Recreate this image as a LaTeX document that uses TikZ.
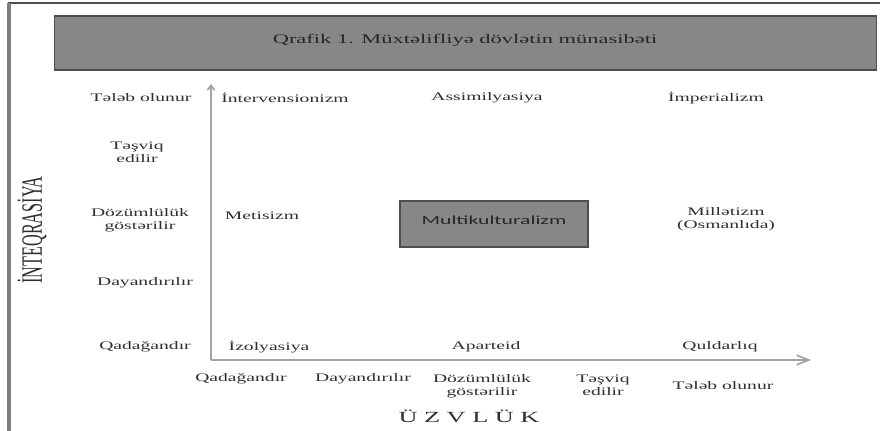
\documentclass[tikz,border=0pt]{standalone}
\usepackage{fontspec}
\setmainfont[FakeStretch=1.7]{Liberation Serif}
\newfontfamily\boxfont[FakeStretch=1.75]{Carlito}
\newfontfamily\sidefont[FakeStretch=0.55]{Liberation Serif}
\usetikzlibrary{arrows.meta}
\definecolor{boxgrey}{HTML}{878787}
\definecolor{edgegrey}{HTML}{4D4D4D}
\definecolor{axisgrey}{HTML}{A3A3A3}
\definecolor{textgrey}{HTML}{2E2E2E}

\begin{document}
\begin{tikzpicture}[x=0.025cm, y=-0.025cm, every node/.style={font=\fontsize{8.2}{9}\selectfont, text=textgrey, align=center, inner sep=1pt}, greybox/.style={draw=edgegrey, line width=1.2pt, fill=boxgrey}, axis/.style={draw=axisgrey, line width=1.2pt}]
\useasboundingbox (0,0) rectangle (880,431);
\draw[edgegrey, line width=0.9pt] (8,3)--(880,3);
\draw[gray, line width=2.2pt] (9,3)--(9,431);
\node[greybox, minimum width=20.55cm, minimum height=1.35cm] (title) at (465.5,43) {};
\node[font=\fontsize{9.4}{10}\selectfont, text=black!85] (titletext) at (465,40) {Qrafik 1. Müxtəlifliyə dövlətin münasibəti};
% axes
\coordinate (origin) at (211,360);
\coordinate (ytop) at (211,84);
\coordinate (xend) at (811,360);
\draw[axis, -{Straight Barb[length=1.2mm,width=1.8mm]}] (origin)--(ytop);
\draw[axis, -{Straight Barb[length=3mm,width=2.4mm]}] (origin)--(xend);
% integration levels
\node (yreq) at (141,98) {Tələb olunur};
\node (yenc) at (137,152) {Təşviq\\edilir};
\node (ytol) at (140,220) {Dözümlülük\\göstərilir};
\node (ystop) at (145,283) {Dayandırılır};
\node (yban) at (145,347) {Qadağandır};
\node[rotate=90, font=\sidefont\fontsize{21}{22}\selectfont] (inteq) at (32,230) {İNTEQRASİYA};
% membership levels
\node (xban) at (241,379) {Qadağandır};
\node (xstop) at (363,379) {Dayandırılır};
\node (xtol) at (482,386) {Dözümlülük\\göstərilir};
\node (xenc) at (603,385) {Təşviq\\edilir};
\node (xreq) at (723,386) {Tələb olunur};
\node[font=\fontsize{11}{12}\selectfont] (uzvluk) at (469,416) {Ü Z V L Ü K};
% policies
\node (interv) at (285,98) {İntervensionizm};
\node (assim) at (487,98) {Assimilyasiya};
\node (imper) at (716,98) {İmperializm};
\node (metis) at (262,216) {Metisizm};
\node[greybox, minimum width=4.7cm, minimum height=1.15cm, font=\boxfont\fontsize{8.8}{10}\selectfont, text=black!85, text depth=0.6em] (multi) at (494,224) {Multikulturalizm};
\node (millet) at (726,219) {Millətizm\\(Osmanlıda)};
\node (izol) at (269,347) {İzolyasiya};
\node (apart) at (486,347) {Aparteid};
\node (quld) at (720,347) {Quldarlıq};
\end{tikzpicture}
\end{document}
